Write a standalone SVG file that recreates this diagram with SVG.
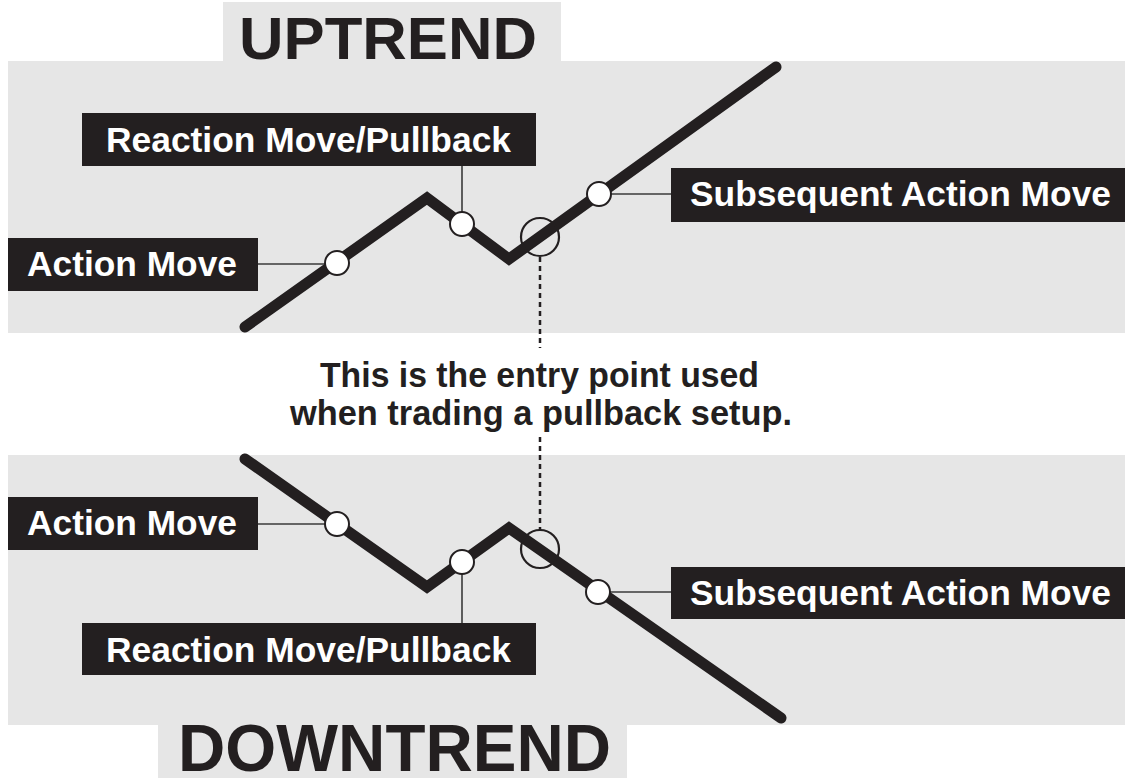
<svg xmlns="http://www.w3.org/2000/svg" width="1125" height="778" viewBox="0 0 1125 778">
<style>
.panel{fill:#e6e6e6}
.title{font-family:"Liberation Sans",Arial,sans-serif;font-weight:bold;fill:#231f20}
.box{fill:#231f20}
.lbl{font-family:"Liberation Sans",Arial,sans-serif;font-weight:bold;font-size:35px;fill:#ffffff}
.mid{font-family:"Liberation Sans",Arial,sans-serif;font-weight:bold;font-size:35px;fill:#231f20}
.trend{fill:none;stroke:#231f20;stroke-width:11;stroke-linecap:round;stroke-linejoin:miter}
.lead{stroke:#3a3a3a;stroke-width:1.6;fill:none}
.dot{fill:#ffffff;stroke:#231f20;stroke-width:2}
.entry{fill:none;stroke:#231f20;stroke-width:2.2}
.dash{stroke:#231f20;stroke-width:2.5;stroke-dasharray:5 4;fill:none}
</style>
<rect width="1125" height="778" fill="#ffffff"/>
<g id="uptrend-panel">
<rect class="panel" x="8" y="61" width="1117" height="272"/>
<rect class="panel" x="223" y="2" width="338" height="60"/>
<text class="title" x="239" y="59" font-size="60" textLength="298" lengthAdjust="spacingAndGlyphs">UPTREND</text>
</g>
<g id="downtrend-panel">
<rect class="panel" x="8" y="455" width="1117" height="270"/>
<rect class="panel" x="158" y="724" width="469" height="54"/>
<text class="title" x="178" y="771" font-size="66" textLength="433" lengthAdjust="spacingAndGlyphs">DOWNTREND</text>
</g>
<g id="connectors">
<polyline class="trend" points="245,327 427,198 509,259 776,67"/>
<polyline class="trend" points="245,459 427,587 509,528 781,718"/>
<line class="lead" x1="258" y1="264" x2="337" y2="264"/>
<line class="lead" x1="462" y1="166" x2="462" y2="225"/>
<line class="lead" x1="599" y1="194" x2="671" y2="194"/>
<line class="lead" x1="258" y1="524" x2="337" y2="524"/>
<line class="lead" x1="462" y1="562" x2="462" y2="623"/>
<line class="lead" x1="598" y1="592" x2="671" y2="592"/>
<line class="dash" x1="540" y1="257" x2="540" y2="348"/>
<line class="dash" x1="540" y1="437" x2="540" y2="530"/>
</g>
<g id="up-action">
<rect class="box" x="8" y="238" width="250" height="53"/>
<text class="lbl" x="27" y="276" textLength="210" lengthAdjust="spacingAndGlyphs">Action Move</text>
<circle class="dot" cx="337" cy="263" r="12"/>
</g>
<g id="up-reaction">
<rect class="box" x="82" y="113" width="454" height="53"/>
<text class="lbl" x="106" y="152" textLength="405" lengthAdjust="spacingAndGlyphs">Reaction Move/Pullback</text>
<circle class="dot" cx="462" cy="224" r="12"/>
</g>
<g id="up-subsequent">
<rect class="box" x="671" y="168" width="454" height="54"/>
<text class="lbl" x="690" y="206" textLength="421" lengthAdjust="spacingAndGlyphs">Subsequent Action Move</text>
<circle class="dot" cx="599" cy="194" r="12"/>
</g>
<g id="up-entry">
<circle class="entry" cx="540" cy="237" r="19"/>
</g>
<g id="entry-note">
<text class="mid" x="320" y="387" textLength="439" lengthAdjust="spacingAndGlyphs">This is the entry point used</text>
<text class="mid" x="290" y="425" textLength="502" lengthAdjust="spacingAndGlyphs">when trading a pullback setup.</text>
</g>
<g id="down-action">
<rect class="box" x="8" y="497" width="250" height="53"/>
<text class="lbl" x="27" y="535" textLength="210" lengthAdjust="spacingAndGlyphs">Action Move</text>
<circle class="dot" cx="337" cy="524" r="12"/>
</g>
<g id="down-reaction">
<rect class="box" x="82" y="623" width="454" height="52"/>
<text class="lbl" x="106" y="662" textLength="405" lengthAdjust="spacingAndGlyphs">Reaction Move/Pullback</text>
<circle class="dot" cx="462" cy="562" r="12"/>
</g>
<g id="down-subsequent">
<rect class="box" x="671" y="567" width="454" height="52"/>
<text class="lbl" x="690" y="605" textLength="421" lengthAdjust="spacingAndGlyphs">Subsequent Action Move</text>
<circle class="dot" cx="598" cy="592" r="12"/>
</g>
<g id="down-entry">
<circle class="entry" cx="540" cy="549" r="19"/>
</g>
</svg>
